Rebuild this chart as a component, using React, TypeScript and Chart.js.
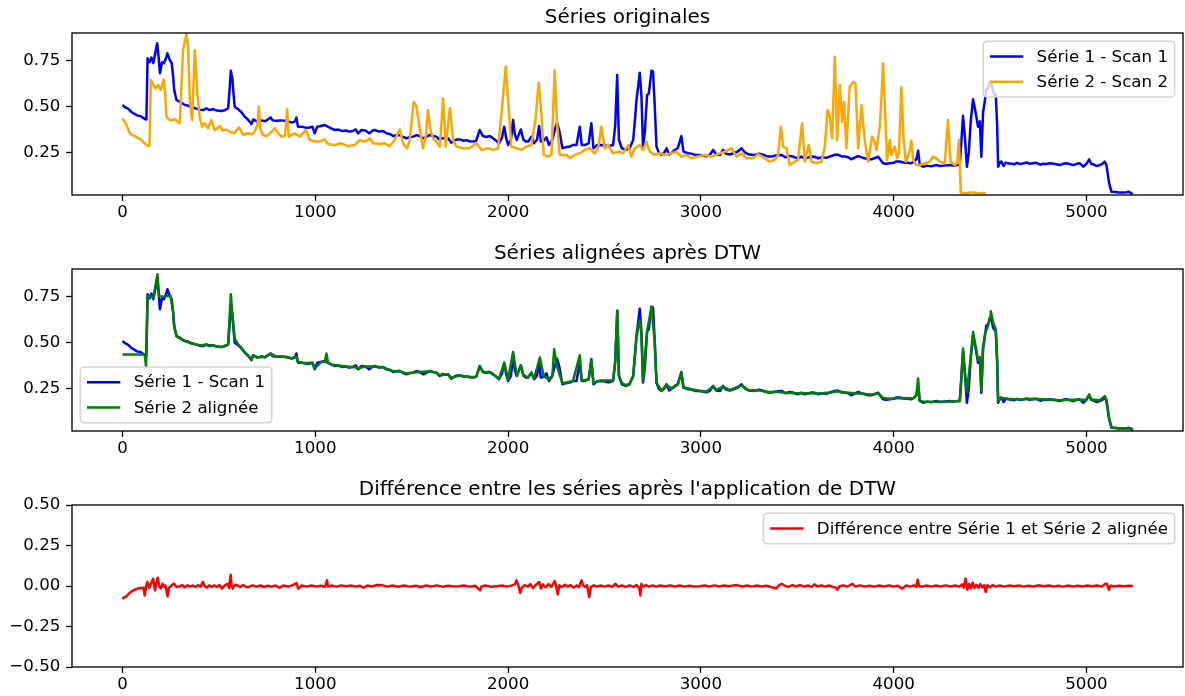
import React, { useEffect, useRef } from "react";
import { Chart, registerables } from "chart.js";

Chart.register(...registerables);

const FONT = "'DejaVu Sans', 'Liberation Sans', sans-serif";
const PT = 120 / 72;

const X_MIN = -262;
const X_MAX = 5501;
const X_TICKS = [0, 1000, 2000, 3000, 4000, 5000];
const X_TICK_LABELS = ["0", "1000", "2000", "3000", "4000", "5000"];

const Y_RANGE_SERIES = [0.021, 0.898];
const Y_TICKS_SERIES = [0.25, 0.5, 0.75];
const Y_TICK_LABELS_SERIES = ["0.25", "0.50", "0.75"];
const Y_RANGE_DIFF = [-0.5, 0.5];
const Y_TICKS_DIFF = [-0.5, -0.25, 0, 0.25, 0.5];
const Y_TICK_LABELS_DIFF = ["\u22120.50", "\u22120.25", "0.00", "0.25", "0.50"];

const TITLES = [
  "Séries originales",
  "Séries alignées après DTW",
  "Différence entre les séries après l'application de DTW",
];
const LABEL_S1 = "Série 1 - Scan 1";
const LABEL_S2 = "Série 2 - Scan 2";
const LABEL_S2A = "Série 2 alignée";
const LABEL_DIFF = "Différence entre Série 1 et Série 2 alignée";

const COLOR_S1 = "#0000ff";
const COLOR_S2 = "#ffa500";
const COLOR_S2A = "#008000";
const COLOR_DIFF = "#ff0000";

// Série 1 - Scan 1 : [index, valeur]
const SERIE1: [number, number][] = [
  [0,0.508],[15,0.495],[30,0.487],[47,0.470],[60,0.462],[75,0.452],[95,0.447],[116,0.432],[124,0.430],
  [130,0.761],[140,0.740],[150,0.765],[160,0.735],[170,0.790],[180,0.842],[188,0.760],[194,0.680],
  [205,0.740],[215,0.735],[225,0.760],[233,0.788],[245,0.752],[255,0.735],[263,0.660],[268,0.590],
  [280,0.535],[297,0.526],[323,0.508],[340,0.505],[358,0.496],[380,0.490],[400,0.483],[418,0.481],
  [435,0.490],[450,0.481],[470,0.485],[490,0.478],[513,0.476],[530,0.480],[548,0.490],[556,0.600],
  [562,0.694],[570,0.650],[575,0.580],[582,0.499],[600,0.485],[615,0.472],[634,0.445],[650,0.430],
  [669,0.405],[678,0.430],[700,0.418],[720,0.425],[740,0.420],[755,0.431],[768,0.441],[780,0.425],
  [800,0.423],[820,0.425],[842,0.423],[860,0.420],[878,0.413],[895,0.420],[902,0.441],[910,0.391],
  [930,0.390],[945,0.387],[965,0.385],[985,0.391],[997,0.355],[1010,0.390],[1030,0.395],[1049,0.400],
  [1065,0.391],[1085,0.380],[1101,0.373],[1120,0.375],[1140,0.367],[1160,0.370],[1175,0.364],
  [1195,0.368],[1210,0.376],[1222,0.355],[1240,0.373],[1260,0.370],[1280,0.355],[1300,0.372],
  [1309,0.373],[1330,0.364],[1350,0.368],[1369,0.355],[1390,0.350],[1404,0.340],[1420,0.345],
  [1438,0.346],[1455,0.335],[1473,0.328],[1490,0.335],[1508,0.337],[1525,0.345],[1542,0.340],
  [1560,0.328],[1575,0.335],[1594,0.346],[1610,0.340],[1628,0.337],[1645,0.319],[1660,0.330],
  [1675,0.325],[1689,0.328],[1705,0.304],[1720,0.315],[1735,0.322],[1750,0.322],[1770,0.315],
  [1785,0.318],[1800,0.312],[1819,0.310],[1835,0.315],[1853,0.373],[1870,0.340],[1888,0.335],
  [1905,0.340],[1920,0.330],[1935,0.318],[1953,0.301],[1968,0.330],[1980,0.391],[1990,0.330],
  [2000,0.292],[2015,0.320],[2026,0.427],[2035,0.350],[2045,0.319],[2066,0.376],[2080,0.320],
  [2094,0.310],[2104,0.310],[2121,0.337],[2135,0.301],[2150,0.320],[2161,0.395],[2170,0.310],
  [2185,0.315],[2199,0.333],[2212,0.292],[2230,0.320],[2242,0.373],[2254,0.413],[2265,0.373],
  [2282,0.274],[2300,0.280],[2320,0.283],[2337,0.292],[2355,0.292],[2372,0.391],[2382,0.292],
  [2400,0.292],[2418,0.300],[2432,0.409],[2443,0.274],[2460,0.290],[2480,0.292],[2500,0.290],
  [2520,0.285],[2545,0.292],[2556,0.400],[2566,0.671],[2575,0.320],[2590,0.274],[2610,0.265],
  [2630,0.274],[2649,0.319],[2660,0.450],[2666,0.535],[2676,0.620],[2683,0.683],[2692,0.553],
  [2700,0.283],[2710,0.370],[2721,0.562],[2730,0.570],[2744,0.694],[2752,0.689],[2761,0.499],
  [2770,0.283],[2782,0.250],[2795,0.238],[2810,0.250],[2822,0.274],[2835,0.240],[2850,0.250],
  [2865,0.265],[2880,0.274],[2899,0.340],[2910,0.256],[2934,0.247],[2950,0.245],[2970,0.238],
  [2986,0.238],[3010,0.235],[3030,0.230],[3046,0.238],[3064,0.265],[3080,0.240],[3100,0.238],
  [3115,0.265],[3130,0.245],[3150,0.240],[3170,0.247],[3190,0.255],[3211,0.274],[3230,0.250],
  [3250,0.240],[3280,0.238],[3300,0.245],[3320,0.240],[3349,0.229],[3370,0.230],[3390,0.235],
  [3418,0.238],[3440,0.225],[3460,0.232],[3478,0.229],[3500,0.220],[3520,0.228],[3539,0.220],
  [3560,0.225],[3575,0.229],[3590,0.228],[3608,0.220],[3630,0.225],[3650,0.222],[3677,0.232],
  [3695,0.238],[3710,0.240],[3730,0.230],[3746,0.229],[3765,0.225],[3780,0.214],[3800,0.225],
  [3816,0.232],[3835,0.225],[3850,0.220],[3870,0.215],[3885,0.214],[3900,0.220],[3920,0.228],
  [3945,0.193],[3960,0.190],[3980,0.193],[4000,0.195],[4012,0.202],[4032,0.202],[4050,0.197],
  [4070,0.196],[4092,0.193],[4105,0.200],[4118,0.215],[4127,0.261],[4135,0.185],[4153,0.174],
  [4175,0.180],[4195,0.176],[4222,0.183],[4240,0.178],[4260,0.180],[4291,0.183],[4310,0.180],
  [4330,0.183],[4343,0.183],[4352,0.319],[4360,0.450],[4370,0.330],[4380,0.174],[4390,0.250],
  [4400,0.420],[4412,0.539],[4425,0.470],[4438,0.390],[4447,0.420],[4455,0.228],[4464,0.470],
  [4472,0.520],[4480,0.590],[4490,0.600],[4500,0.634],[4508,0.620],[4516,0.580],[4530,0.560],
  [4537,0.400],[4542,0.174],[4552,0.200],[4559,0.202],[4570,0.178],[4580,0.195],[4594,0.193],
  [4610,0.190],[4625,0.187],[4640,0.195],[4654,0.189],[4670,0.192],[4690,0.197],[4705,0.190],
  [4723,0.193],[4740,0.195],[4760,0.185],[4775,0.190],[4793,0.189],[4810,0.193],[4830,0.190],
  [4845,0.187],[4862,0.183],[4880,0.190],[4895,0.193],[4912,0.189],[4931,0.183],[4950,0.190],
  [4965,0.193],[4983,0.174],[5000,0.190],[5014,0.214],[5025,0.190],[5040,0.185],[5052,0.178],
  [5070,0.183],[5086,0.192],[5095,0.202],[5104,0.183],[5118,0.084],[5130,0.039],[5150,0.037],
  [5170,0.035],[5190,0.034],[5210,0.036],[5220,0.039],[5233,0.030],[5241,0.026],
];

// Série 2 - Scan 2 : [index, valeur]
const SERIE2: [number, number][] = [
  [0,0.436],[10,0.420],[20,0.400],[38,0.355],[50,0.345],[64,0.340],[80,0.330],[98,0.319],[115,0.300],
  [133,0.286],[140,0.290],[147,0.643],[158,0.625],[171,0.598],[185,0.616],[198,0.590],[214,0.647],
  [222,0.560],[228,0.445],[245,0.427],[260,0.427],[271,0.431],[285,0.420],[297,0.409],[305,0.600],
  [314,0.806],[332,0.896],[340,0.823],[349,0.535],[361,0.427],[375,0.806],[389,0.562],[400,0.445],
  [413,0.391],[425,0.409],[444,0.382],[461,0.427],[478,0.373],[490,0.380],[505,0.395],[520,0.370],
  [540,0.375],[556,0.364],[580,0.355],[605,0.387],[625,0.346],[652,0.355],[670,0.350],[686,0.364],
  [700,0.400],[707,0.499],[715,0.380],[730,0.345],[747,0.340],[765,0.355],[790,0.382],[808,0.355],
  [825,0.337],[842,0.340],[850,0.420],[854,0.485],[862,0.337],[894,0.355],[920,0.337],[951,0.373],
  [972,0.319],[997,0.310],[1020,0.310],[1049,0.322],[1066,0.297],[1100,0.292],[1136,0.301],
  [1170,0.286],[1205,0.292],[1231,0.319],[1257,0.310],[1283,0.328],[1300,0.301],[1335,0.297],
  [1360,0.301],[1386,0.286],[1412,0.319],[1438,0.376],[1455,0.301],[1476,0.274],[1490,0.319],
  [1511,0.526],[1525,0.499],[1539,0.400],[1559,0.274],[1573,0.337],[1585,0.481],[1597,0.373],
  [1611,0.328],[1628,0.310],[1646,0.283],[1663,0.544],[1677,0.283],[1698,0.490],[1715,0.319],
  [1732,0.283],[1767,0.274],[1800,0.274],[1836,0.301],[1862,0.265],[1896,0.274],[1922,0.265],
  [1948,0.274],[1966,0.463],[1988,0.716],[2005,0.463],[2017,0.283],[2043,0.274],[2069,0.265],
  [2095,0.283],[2121,0.292],[2142,0.427],[2159,0.629],[2173,0.463],[2185,0.238],[2208,0.229],
  [2225,0.238],[2242,0.697],[2254,0.409],[2268,0.238],[2303,0.238],[2320,0.220],[2346,0.238],
  [2372,0.247],[2398,0.265],[2424,0.274],[2450,0.247],[2467,0.274],[2484,0.391],[2502,0.274],
  [2519,0.292],[2545,0.247],[2571,0.256],[2597,0.247],[2623,0.292],[2640,0.229],[2657,0.274],
  [2683,0.292],[2700,0.265],[2718,0.310],[2735,0.256],[2761,0.238],[2787,0.247],[2813,0.238],
  [2847,0.247],[2873,0.256],[2899,0.229],[2925,0.238],[2951,0.220],[2986,0.229],[3020,0.238],
  [3055,0.229],[3090,0.243],[3124,0.256],[3159,0.274],[3185,0.229],[3211,0.247],[3237,0.220],
  [3271,0.220],[3297,0.243],[3331,0.220],[3357,0.202],[3383,0.211],[3401,0.238],[3415,0.391],
  [3427,0.283],[3444,0.274],[3461,0.183],[3487,0.202],[3504,0.211],[3525,0.409],[3539,0.202],
  [3560,0.292],[3574,0.202],[3600,0.193],[3626,0.202],[3643,0.283],[3657,0.481],[3669,0.445],
  [3681,0.328],[3695,0.770],[3707,0.319],[3721,0.616],[3733,0.418],[3743,0.526],[3755,0.274],
  [3772,0.607],[3790,0.634],[3802,0.625],[3816,0.274],[3833,0.508],[3850,0.319],[3868,0.202],
  [3888,0.337],[3902,0.310],[3911,0.265],[3928,0.391],[3937,0.553],[3945,0.734],[3954,0.517],
  [3966,0.211],[3980,0.319],[3988,0.238],[4006,0.283],[4018,0.220],[4028,0.247],[4040,0.604],
  [4052,0.319],[4063,0.202],[4080,0.247],[4092,0.315],[4101,0.211],[4118,0.183],[4135,0.183],
  [4161,0.192],[4187,0.202],[4205,0.229],[4222,0.220],[4240,0.202],[4265,0.193],[4282,0.427],
  [4295,0.202],[4317,0.183],[4329,0.193],[4339,0.319],[4348,0.034],[4370,0.030],[4395,0.034],
  [4412,0.034],[4445,0.030],[4465,0.032],[4478,0.030],
];

// Série 2 alignée (DTW) : [index, valeur]
const SERIE2_ALIGNEE: [number, number][] = [
  [0,0.435],[116,0.435],[122,0.368],[130,0.750],[150,0.750],[160,0.745],[170,0.800],[181,0.869],
  [190,0.750],[215,0.748],[235,0.752],[250,0.752],[263,0.660],[268,0.590],[280,0.535],[297,0.522],
  [323,0.508],[358,0.496],[400,0.485],[435,0.488],[470,0.482],[513,0.475],[548,0.490],[556,0.650],
  [562,0.761],[570,0.650],[582,0.520],[600,0.490],[634,0.447],[669,0.410],[678,0.432],[700,0.420],
  [740,0.422],[768,0.440],[800,0.424],[842,0.422],[878,0.415],[902,0.425],[910,0.395],[945,0.389],
  [985,0.390],[997,0.360],[1030,0.394],[1050,0.395],[1058,0.440],[1066,0.392],[1085,0.380],
  [1120,0.375],[1160,0.370],[1195,0.368],[1222,0.360],[1260,0.370],[1300,0.370],[1350,0.366],
  [1404,0.345],[1438,0.346],[1473,0.332],[1508,0.337],[1542,0.340],[1594,0.344],[1628,0.337],
  [1645,0.322],[1689,0.328],[1705,0.308],[1750,0.322],[1800,0.314],[1835,0.315],[1853,0.370],
  [1870,0.340],[1905,0.340],[1953,0.305],[1980,0.390],[2000,0.300],[2026,0.449],[2045,0.320],
  [2066,0.376],[2080,0.322],[2104,0.312],[2121,0.337],[2135,0.305],[2165,0.419],[2185,0.318],
  [2212,0.300],[2230,0.320],[2239,0.464],[2254,0.370],[2282,0.280],[2337,0.292],[2372,0.431],
  [2382,0.295],[2418,0.300],[2432,0.400],[2443,0.280],[2480,0.295],[2545,0.295],[2556,0.400],
  [2567,0.674],[2575,0.320],[2590,0.280],[2610,0.270],[2630,0.275],[2649,0.320],[2666,0.530],
  [2683,0.620],[2692,0.550],[2700,0.290],[2721,0.560],[2744,0.694],[2761,0.499],[2770,0.283],
  [2795,0.240],[2822,0.270],[2850,0.252],[2880,0.272],[2899,0.335],[2910,0.258],[2950,0.247],
  [2986,0.240],[3030,0.235],[3064,0.262],[3080,0.242],[3115,0.262],[3150,0.242],[3211,0.268],
  [3250,0.240],[3300,0.242],[3349,0.232],[3400,0.232],[3440,0.228],[3500,0.226],[3560,0.226],
  [3608,0.224],[3677,0.230],[3710,0.236],[3746,0.230],[3800,0.225],[3850,0.222],[3885,0.218],
  [3920,0.225],[3945,0.200],[3980,0.196],[4032,0.200],[4070,0.198],[4105,0.200],[4118,0.215],
  [4127,0.305],[4135,0.185],[4153,0.180],[4222,0.180],[4291,0.181],[4343,0.183],[4352,0.319],
  [4360,0.468],[4370,0.330],[4380,0.233],[4400,0.420],[4412,0.557],[4425,0.480],[4438,0.405],
  [4447,0.420],[4455,0.240],[4464,0.480],[4475,0.550],[4490,0.590],[4500,0.640],[4504,0.669],
  [4516,0.610],[4530,0.570],[4537,0.400],[4542,0.185],[4559,0.200],[4594,0.195],[4654,0.192],
  [4723,0.195],[4793,0.192],[4862,0.188],[4931,0.190],[5000,0.192],[5014,0.220],[5025,0.192],
  [5070,0.188],[5095,0.210],[5104,0.190],[5118,0.090],[5130,0.040],[5190,0.035],[5233,0.035],
  [5241,0.028],
];

// Différence entre Série 1 et Série 2 alignée : [index, valeur]
const DIFFERENCE: [number, number][] = [
  [0,-0.078],[10,-0.070],[20,-0.064],[35,-0.045],[50,-0.031],[65,-0.022],[79,-0.016],[95,-0.012],
  [109,-0.010],[115,-0.058],[122,-0.005],[129,0.025],[139,-0.012],[149,0.020],[159,0.045],
  [164,0.005],[169,-0.027],[176,0.020],[183,0.051],[190,0.000],[198,-0.015],[208,0.014],
  [215,-0.005],[222,0.004],[234,-0.064],[241,-0.010],[248,-0.006],[258,0.008],[268,0.014],
  [280,-0.006],[298,-0.001],[310,0.006],[322,-0.008],[337,0.004],[350,-0.004],[365,0.003],
  [377,-0.006],[392,0.005],[405,-0.004],[417,0.025],[425,0.002],[437,-0.010],[450,0.004],
  [463,-0.005],[476,0.004],[490,-0.006],[503,0.006],[516,-0.016],[530,0.004],[546,0.014],
  [553,-0.012],[561,0.070],[566,0.000],[571,-0.016],[583,0.008],[595,0.004],[610,-0.006],
  [625,0.006],[640,-0.004],[655,-0.006],[675,0.004],[695,-0.004],[715,0.003],[735,-0.006],
  [754,0.002],[775,-0.004],[795,0.003],[813,-0.010],[835,0.003],[860,-0.003],[880,0.004],
  [903,0.018],[908,-0.005],[913,-0.016],[930,0.003],[955,-0.004],[980,0.003],[1005,-0.003],
  [1030,0.002],[1050,-0.005],[1061,0.035],[1066,-0.004],[1085,0.003],[1110,-0.004],[1135,0.004],
  [1160,-0.002],[1185,0.003],[1210,-0.004],[1230,0.002],[1250,-0.010],[1270,0.003],[1295,-0.003],
  [1320,0.006],[1349,0.004],[1375,-0.004],[1400,0.003],[1430,-0.005],[1460,0.003],[1490,-0.004],
  [1520,0.002],[1548,-0.006],[1575,0.003],[1600,-0.003],[1630,0.004],[1660,-0.004],[1690,0.002],
  [1720,-0.003],[1746,-0.002],[1770,0.003],[1800,-0.004],[1830,0.002],[1855,-0.027],[1862,-0.004],
  [1880,0.003],[1910,-0.004],[1944,-0.002],[1970,0.003],[1995,-0.004],[2020,0.004],[2035,0.010],
  [2043,0.035],[2052,0.010],[2063,-0.043],[2072,-0.010],[2085,0.006],[2103,-0.004],[2115,0.012],
  [2130,-0.012],[2145,0.008],[2162,0.025],[2170,-0.015],[2180,0.010],[2195,-0.008],[2210,0.012],
  [2225,-0.006],[2242,0.030],[2250,-0.005],[2258,-0.051],[2266,0.004],[2280,-0.006],[2295,0.008],
  [2310,-0.004],[2325,0.005],[2341,-0.010],[2355,0.004],[2368,-0.006],[2381,0.035],[2390,0.002],
  [2400,-0.006],[2410,0.005],[2421,-0.068],[2430,-0.005],[2445,0.004],[2460,-0.004],[2480,0.003],
  [2500,-0.004],[2520,0.003],[2540,-0.005],[2557,0.014],[2570,-0.004],[2590,0.003],[2610,-0.005],
  [2630,0.004],[2650,-0.006],[2665,0.006],[2680,-0.010],[2686,-0.058],[2692,0.014],[2700,-0.004],
  [2715,0.006],[2730,-0.004],[2750,0.003],[2770,-0.004],[2790,0.003],[2815,-0.003],[2840,0.004],
  [2865,-0.003],[2890,0.003],[2915,-0.004],[2940,0.002],[2965,-0.003],[2993,-0.002],[3020,0.003],
  [3045,-0.003],[3070,0.004],[3095,-0.003],[3120,0.003],[3145,-0.002],[3170,0.004],[3192,0.004],
  [3215,-0.003],[3240,0.003],[3265,-0.004],[3290,0.003],[3315,-0.003],[3340,0.002],[3365,-0.006],
  [3390,-0.016],[3405,0.004],[3420,0.014],[3435,0.002],[3455,-0.006],[3475,0.005],[3495,-0.003],
  [3515,0.006],[3535,-0.004],[3555,0.003],[3575,-0.005],[3589,0.010],[3605,-0.003],[3625,0.004],
  [3645,-0.004],[3665,0.003],[3685,-0.006],[3700,-0.010],[3708,-0.023],[3720,-0.002],[3740,0.004],
  [3760,-0.003],[3787,0.014],[3800,-0.003],[3825,0.004],[3850,-0.003],[3875,0.002],[3900,-0.004],
  [3925,0.003],[3950,-0.003],[3975,0.004],[4000,-0.003],[4020,0.002],[4045,-0.016],[4065,0.003],
  [4085,-0.004],[4105,0.004],[4118,-0.006],[4125,0.039],[4132,0.000],[4150,-0.004],[4170,0.003],
  [4195,-0.004],[4220,0.003],[4245,-0.003],[4270,0.004],[4295,-0.003],[4320,0.003],[4340,-0.004],
  [4355,0.010],[4364,-0.010],[4373,0.045],[4383,-0.023],[4392,0.012],[4400,-0.015],[4410,0.020],
  [4420,-0.012],[4430,0.008],[4440,-0.010],[4450,0.012],[4460,-0.008],[4470,0.005],[4478,-0.037],
  [4486,0.004],[4500,-0.008],[4515,0.006],[4530,-0.004],[4550,0.003],[4575,-0.004],[4600,0.003],
  [4625,-0.002],[4650,0.003],[4675,-0.004],[4700,0.002],[4725,-0.003],[4750,0.004],[4780,-0.002],
  [4805,0.003],[4830,-0.003],[4855,0.002],[4880,-0.004],[4905,0.003],[4930,-0.003],[4955,0.002],
  [4980,-0.003],[5005,0.003],[5030,-0.002],[5055,0.003],[5080,-0.004],[5095,0.012],[5107,0.014],
  [5112,-0.010],[5117,-0.023],[5125,0.002],[5145,-0.002],[5170,0.002],[5195,-0.002],[5220,0.001],
  [5241,0.000],
];

type Series = { label: string; color: string; data: [number, number][]; order: number };
type PanelCfg = {
  top: number;
  title: string;
  yRange: number[];
  yTicks: number[];
  yLabels: string[];
  legendLoc: "upper right" | "lower left";
  series: Series[];
};

const PANELS: PanelCfg[] = [
  {
    top: 0,
    title: TITLES[0],
    yRange: Y_RANGE_SERIES,
    yTicks: Y_TICKS_SERIES,
    yLabels: Y_TICK_LABELS_SERIES,
    legendLoc: "upper right",
    series: [
      { label: LABEL_S1, color: COLOR_S1, data: SERIE1, order: 2 },
      { label: LABEL_S2, color: COLOR_S2, data: SERIE2, order: 1 },
    ],
  },
  {
    top: 236,
    title: TITLES[1],
    yRange: Y_RANGE_SERIES,
    yTicks: Y_TICKS_SERIES,
    yLabels: Y_TICK_LABELS_SERIES,
    legendLoc: "lower left",
    series: [
      { label: LABEL_S1, color: COLOR_S1, data: SERIE1, order: 2 },
      { label: LABEL_S2A, color: COLOR_S2A, data: SERIE2_ALIGNEE, order: 1 },
    ],
  },
  {
    top: 472,
    title: TITLES[2],
    yRange: Y_RANGE_DIFF,
    yTicks: Y_TICKS_DIFF,
    yLabels: Y_TICK_LABELS_DIFF,
    legendLoc: "upper right",
    series: [{ label: LABEL_DIFF, color: COLOR_DIFF, data: DIFFERENCE, order: 1 }],
  },
];

const CANVAS_W = 1185;
const CANVAS_H = 236;
const FS = 10 * PT; // 10pt
const TITLE_FS = 12 * PT;

function makeDecoPlugin(cfg: PanelCfg) {
  return {
    id: "mplDeco",
    afterDraw(chart: any) {
      const ctx: CanvasRenderingContext2D = chart.ctx;
      const a = chart.chartArea;
      ctx.save();
      // spines
      ctx.strokeStyle = "#000";
      ctx.lineWidth = 0.8 * PT;
      ctx.strokeRect(a.left, a.top, a.right - a.left, a.bottom - a.top);

      // legend
      ctx.font = `${FS}px ${FONT}`;
      const items = cfg.series;
      const tw = Math.max(...items.map((s) => ctx.measureText(s.label).width));
      const pad = 0.4 * FS;
      const handle = 2 * FS;
      const textPad = 0.8 * FS;
      const rowH = 17;
      const spacing = 0.5 * FS;
      const axPad = 0.5 * FS;
      const w = 2 * pad + handle + textPad + tw;
      const h = 2 * pad + items.length * rowH + (items.length - 1) * spacing;
      let x0: number, y0: number;
      if (cfg.legendLoc === "upper right") {
        x0 = a.right - axPad - w;
        y0 = a.top + axPad;
      } else {
        x0 = a.left + axPad;
        y0 = a.bottom - axPad - h;
      }
      const r = 0.2 * FS;
      ctx.beginPath();
      ctx.moveTo(x0 + r, y0);
      ctx.lineTo(x0 + w - r, y0);
      ctx.arcTo(x0 + w, y0, x0 + w, y0 + r, r);
      ctx.lineTo(x0 + w, y0 + h - r);
      ctx.arcTo(x0 + w, y0 + h, x0 + w - r, y0 + h, r);
      ctx.lineTo(x0 + r, y0 + h);
      ctx.arcTo(x0, y0 + h, x0, y0 + h - r, r);
      ctx.lineTo(x0, y0 + r);
      ctx.arcTo(x0, y0, x0 + r, y0, r);
      ctx.closePath();
      ctx.fillStyle = "rgba(255,255,255,0.8)";
      ctx.fill();
      ctx.strokeStyle = "rgba(204,204,204,0.8)";
      ctx.lineWidth = 1 * PT;
      ctx.stroke();
      items.forEach((s, i) => {
        const cy = y0 + pad + rowH / 2 + i * (rowH + spacing);
        ctx.beginPath();
        ctx.strokeStyle = s.color;
        ctx.lineWidth = 1.5 * PT;
        ctx.moveTo(x0 + pad, cy);
        ctx.lineTo(x0 + pad + handle, cy);
        ctx.stroke();
        ctx.fillStyle = "#000";
        ctx.textAlign = "left";
        ctx.textBaseline = "middle";
        ctx.fillText(s.label, x0 + pad + handle + textPad, cy + 1);
      });

      // title
      ctx.font = `${TITLE_FS}px ${FONT}`;
      ctx.fillStyle = "#000";
      ctx.textAlign = "center";
      ctx.textBaseline = "alphabetic";
      ctx.fillText(cfg.title, (a.left + a.right) / 2, a.top - 6 * PT);
      ctx.restore();
    },
  };
}

function Panel({ cfg }: { cfg: PanelCfg }) {
  const ref = useRef<HTMLCanvasElement>(null);
  useEffect(() => {
    const canvas = ref.current;
    if (!canvas) return;
    const tickFont = { family: FONT, size: FS };
    const chart = new Chart(canvas, {
      type: "line",
      data: {
        datasets: cfg.series.map((s) => ({
          label: s.label,
          data: s.data.map(([x, y]) => ({ x, y })),
          borderColor: s.color,
          backgroundColor: s.color,
          borderWidth: 1.5 * PT,
          pointRadius: 0,
          tension: 0,
          fill: false,
          borderJoinStyle: "round" as const,
          borderCapStyle: "butt" as const,
          order: s.order,
        })),
      },
      options: {
        responsive: false,
        animation: false,
        events: [],
        devicePixelRatio: 1,
        layout: { padding: { top: 33, right: 2, bottom: CANVAS_H - 195 - 30, left: 0 } },
        plugins: {
          legend: { display: false },
          title: { display: false },
          tooltip: { enabled: false },
        },
        scales: {
          x: {
            type: "linear",
            min: X_MIN,
            max: X_MAX,
            afterBuildTicks: (s: any) => {
              s.ticks = X_TICKS.map((v) => ({ value: v }));
            },
            afterFit: (s: any) => {
              s.height = 30;
            },
            ticks: {
              autoSkip: false,
              maxRotation: 0,
              minRotation: 0,
              padding: 2,
              color: "#000",
              font: tickFont,
              callback: (v: any) => {
                const i = X_TICKS.indexOf(Number(v));
                return i >= 0 ? X_TICK_LABELS[i] : "";
              },
            },
            grid: {
              display: true,
              drawOnChartArea: false,
              drawTicks: true,
              tickLength: 3.5 * PT,
              tickWidth: 0.8 * PT,
              tickColor: "#000",
            },
            border: { display: false },
          },
          y: {
            type: "linear",
            min: cfg.yRange[0],
            max: cfg.yRange[1],
            afterBuildTicks: (s: any) => {
              s.ticks = cfg.yTicks.map((v) => ({ value: v }));
            },
            afterFit: (s: any) => {
              s.width = 72;
            },
            ticks: {
              autoSkip: false,
              padding: 3.5 * PT,
              color: "#000",
              font: tickFont,
              callback: (v: any) => {
                const i = cfg.yTicks.findIndex((t) => Math.abs(t - Number(v)) < 1e-9);
                return i >= 0 ? cfg.yLabels[i] : "";
              },
            },
            grid: {
              display: true,
              drawOnChartArea: false,
              drawTicks: true,
              tickLength: 3.5 * PT,
              tickWidth: 0.8 * PT,
              tickColor: "#000",
            },
            border: { display: false },
          },
        },
      },
      plugins: [makeDecoPlugin(cfg)],
    } as any);
    return () => chart.destroy();
  }, [cfg]);
  return (
    <canvas
      ref={ref}
      width={CANVAS_W}
      height={CANVAS_H}
      style={{ position: "absolute", left: 0, top: cfg.top, width: CANVAS_W, height: CANVAS_H }}
    />
  );
}

export default function App() {
  return (
    <div
      style={{
        position: "fixed",
        left: 0,
        top: 0,
        width: CANVAS_W,
        height: 696,
        overflow: "hidden",
        background: "#fff",
      }}
    >
      {PANELS.map((p, i) => (
        <Panel key={i} cfg={p} />
      ))}
    </div>
  );
}
